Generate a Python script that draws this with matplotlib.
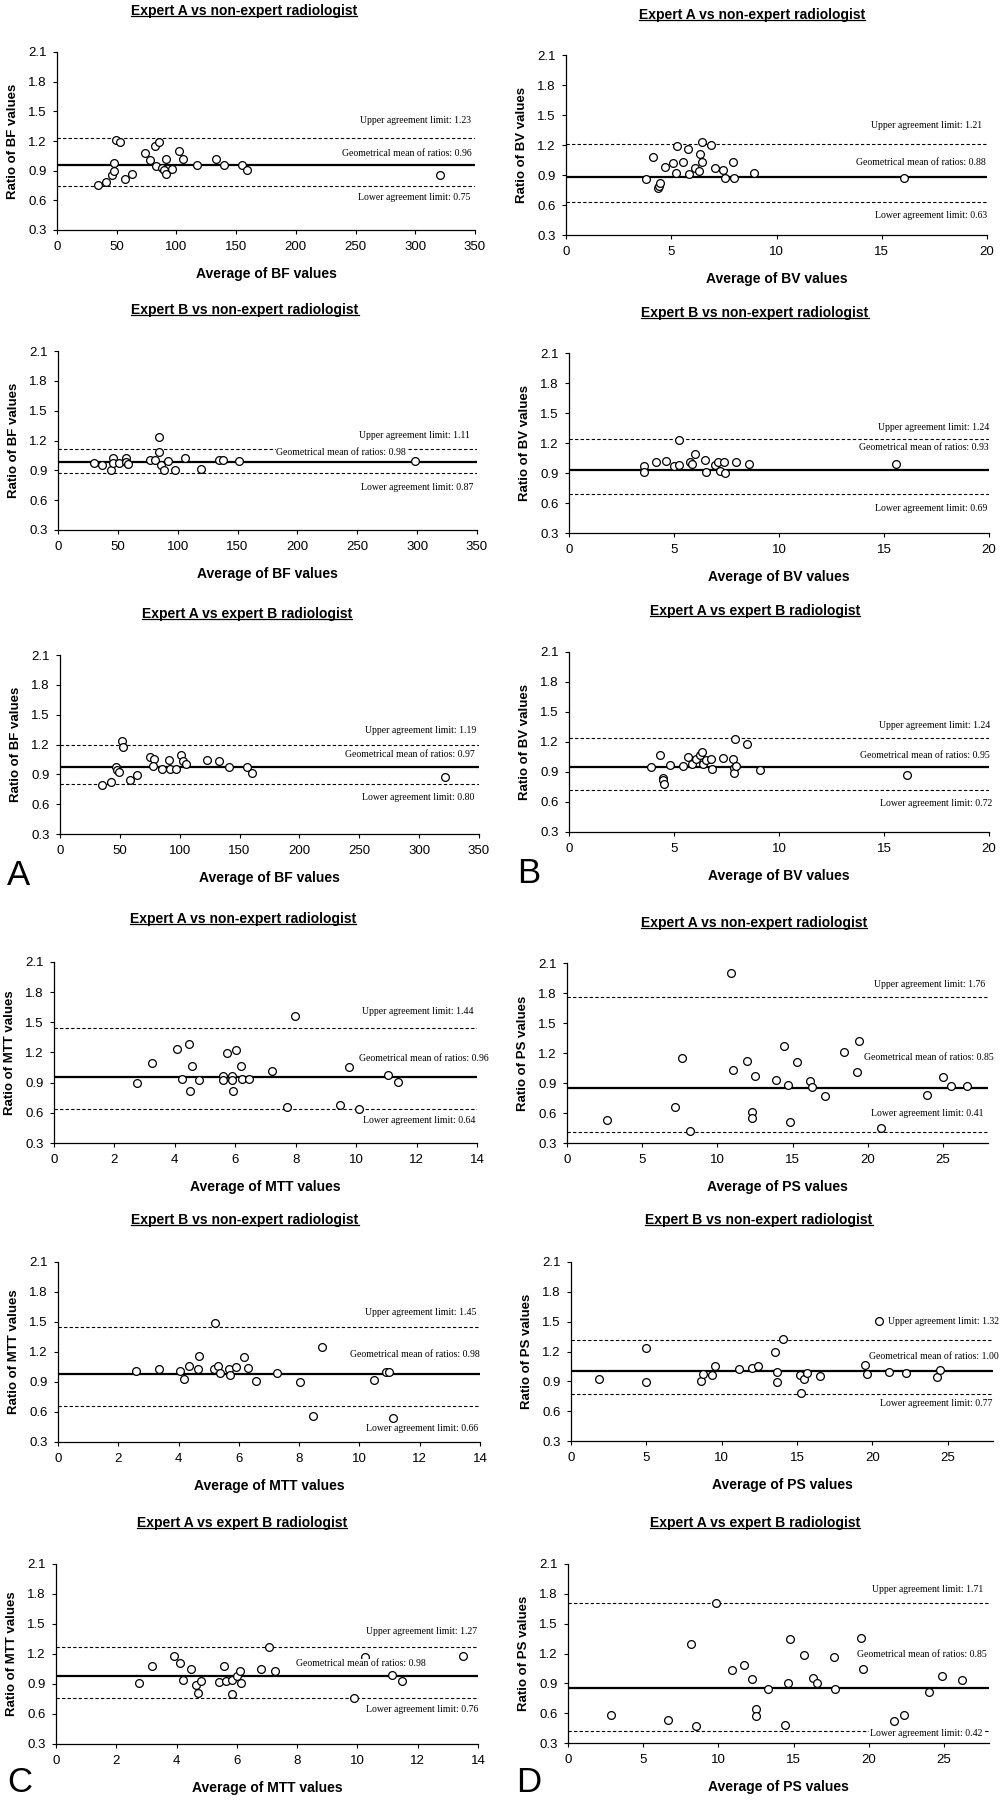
import matplotlib.pyplot as plt
from matplotlib.lines import Line2D

plt.rcParams['font.family'] = ['Liberation Sans', 'DejaVu Sans']

W, H = 1001, 1800

# ---------------- values ----------------
# BF
bf_a_non_x = [34.6, 41.3, 45.8, 47.5, 47.5, 49.7, 52.5, 57.0, 62.6, 74.0, 78.2, 81.8, 85.5, 83.2,
              87.7, 89.4, 91.6, 91.6, 96.4, 102.0, 105.3, 117.0, 133.0, 140.0, 155.0, 159.0, 320.7]
bf_a_non_y = [0.76, 0.79, 0.855, 0.90, 0.98, 1.215, 1.19, 0.82, 0.865, 1.08, 1.01, 1.15, 1.19, 0.95,
              0.93, 0.905, 0.865, 1.02, 0.92, 1.10, 1.02, 0.955, 1.02, 0.955, 0.955, 0.905, 0.86]
bf_b_non_x = [30.1, 36.8, 44.1, 46.0, 46.0, 51.0, 56.6, 56.6, 58.6, 76.7, 80.9, 84.5, 84.5, 85.9,
              88.7, 92.0, 97.6, 106.0, 119.6, 134.4, 137.5, 151.4, 297.8]
bf_b_non_y = [0.97, 0.953, 0.903, 1.02, 0.97, 0.97, 1.02, 0.987, 0.963, 1.0, 1.0, 1.238, 1.081, 0.953,
              0.903, 0.997, 0.903, 1.027, 0.913, 1.0, 1.0, 0.99, 0.99]
bf_a_b_x = [35.4, 42.3, 46.5, 47.9, 49.3, 52.1, 52.9, 58.5, 64.0, 75.2, 78.8, 77.4, 84.9, 91.3,
            91.9, 96.6, 100.8, 102.5, 105.0, 122.5, 133.1, 140.9, 156.0, 160.7, 321.6]
bf_a_b_y = [0.789, 0.822, 0.973, 0.946, 0.922, 1.24, 1.173, 0.845, 0.896, 1.073, 1.056, 0.979, 0.952,
            1.046, 0.956, 0.956, 1.09, 1.036, 1.006, 1.046, 1.036, 0.969, 0.969, 0.912, 0.872]

# BV
bv_a_non_x = [3.79, 4.12, 4.39, 4.44, 4.47, 4.71, 5.10, 5.23, 5.26, 5.58, 5.78, 5.83, 6.13, 6.32,
              6.37, 6.45, 6.45, 6.88, 7.08, 7.45, 7.53, 7.92, 7.96, 8.95, 16.04]
bv_a_non_y = [0.857, 1.083, 0.767, 0.793, 0.823, 0.983, 1.017, 0.917, 1.193, 1.027, 1.16, 0.907, 0.973,
              0.94, 1.11, 1.027, 1.227, 1.20, 0.967, 0.95, 0.867, 1.027, 0.867, 0.917, 0.867]
bv_b_non_x = [3.56, 3.56, 4.13, 4.63, 4.98, 5.22, 5.22, 5.75, 5.86, 6.02, 6.49, 6.54, 6.94, 7.10,
              7.17, 7.38, 7.41, 7.94, 8.57, 15.56]
bv_b_non_y = [0.973, 0.907, 1.007, 1.017, 0.967, 1.233, 0.977, 1.007, 0.993, 1.09, 1.027, 0.907, 0.977,
              1.007, 0.923, 1.007, 0.90, 1.007, 0.993, 0.993]
bv_a_b_x = [3.89, 4.33, 4.49, 4.49, 4.54, 4.81, 5.41, 5.68, 5.87, 6.07, 6.23, 6.31, 6.39, 6.50,
            6.76, 6.82, 7.34, 7.82, 7.85, 7.85, 7.95, 7.90, 8.49, 9.09, 16.1]
bv_a_b_y = [0.95, 1.073, 0.84, 0.817, 0.783, 0.973, 0.957, 1.05, 0.977, 1.033, 1.073, 1.10, 0.977,
            1.023, 1.033, 0.927, 1.043, 1.033, 0.94, 0.89, 0.96, 1.233, 1.177, 0.917, 0.873]

# MTT
mtt_a_non_x = [2.75, 3.25, 4.08, 4.22, 4.48, 4.50, 4.57, 4.81, 5.58, 5.58, 5.73, 5.88, 5.88, 5.91,
               6.02, 6.18, 6.21, 6.46, 7.20, 7.72, 7.98, 9.45, 9.75, 10.08, 11.05, 11.37]
mtt_a_non_y = [0.90, 1.099, 1.238, 0.94, 1.288, 0.817, 1.068, 0.93, 0.966, 0.923, 1.195, 0.966, 0.923,
               0.817, 1.228, 1.068, 0.94, 0.94, 1.016, 0.658, 1.56, 0.681, 1.055, 0.635, 0.98, 0.907]
mtt_b_non_x = [2.60, 3.34, 4.06, 4.17, 4.35, 4.63, 4.67, 5.17, 5.20, 5.31, 5.37, 5.68, 5.72, 5.89,
               6.16, 6.29, 6.56, 7.25, 8.02, 8.47, 8.76, 10.48, 10.88, 10.99, 11.12]
mtt_b_non_y = [1.011, 1.027, 1.011, 0.931, 1.06, 1.027, 1.163, 1.027, 1.492, 1.06, 0.987, 1.027, 0.971,
               1.047, 1.147, 1.037, 0.911, 0.994, 0.898, 0.562, 1.246, 0.921, 0.997, 0.997, 0.539]
mtt_a_b_x = [2.76, 3.20, 3.92, 4.12, 4.21, 4.48, 4.65, 4.70, 4.81, 5.42, 5.59, 5.64, 5.85, 5.83,
             6.00, 6.11, 6.13, 6.81, 7.05, 7.27, 9.90, 10.26, 11.14, 11.48, 13.5]
mtt_a_b_y = [0.907, 1.08, 1.183, 1.113, 0.94, 1.047, 0.89, 0.813, 0.933, 0.917, 1.08, 0.933, 0.94,
             0.797, 0.98, 1.033, 0.907, 1.047, 1.267, 1.033, 0.763, 1.173, 0.99, 0.93, 1.183]

# PS
ps_a_non_x = [2.67, 7.16, 7.67, 8.16, 10.93, 11.07, 12.0, 12.33, 12.33, 12.49, 13.93, 14.44, 14.67,
              14.82, 15.33, 16.18, 16.27, 17.16, 18.44, 19.29, 19.4, 20.89, 23.96, 25.0, 25.56, 26.62]
ps_a_non_y = [0.533, 0.657, 1.15, 0.417, 2.0, 1.033, 1.117, 0.607, 0.55, 0.973, 0.933, 1.267, 0.883,
              0.51, 1.107, 0.923, 0.857, 0.773, 1.21, 1.007, 1.317, 0.45, 0.783, 0.96, 0.867, 0.867]
ps_b_non_x = [1.89, 4.99, 4.97, 8.65, 8.74, 9.36, 9.54, 11.18, 12.02, 12.40, 13.51, 13.64, 13.69,
              14.06, 15.2, 15.24, 15.46, 15.68, 16.5, 19.52, 19.63, 20.41, 21.12, 22.23, 24.29, 24.51]
ps_b_non_y = [0.922, 1.237, 0.889, 0.902, 0.969, 0.962, 1.056, 1.019, 1.039, 1.053, 1.197, 0.889, 0.996,
              1.324, 0.962, 0.778, 0.922, 0.986, 0.956, 1.063, 0.969, 1.508, 0.989, 0.979, 0.939, 1.013]
ps_a_b_x = [2.87, 6.67, 8.17, 8.48, 9.81, 10.93, 11.71, 12.24, 12.48, 12.48, 13.3, 14.4, 14.66,
            14.77, 15.72, 16.28, 16.54, 17.71, 17.78, 19.48, 19.59, 21.69, 22.35, 24.0, 24.89, 26.21]
ps_a_b_y = [0.584, 0.534, 1.294, 0.467, 1.705, 1.036, 1.08, 0.942, 0.641, 0.568, 0.845, 0.484, 0.902,
            1.344, 1.187, 0.952, 0.902, 1.16, 0.845, 1.354, 1.045, 0.518, 0.584, 0.812, 0.975, 0.935]

# upper limit, geometrical mean, lower limit for each panel
limits = [(1.23, 0.96, 0.75), (1.21, 0.88, 0.63),
          (1.11, 0.98, 0.87), (1.24, 0.93, 0.69),
          (1.19, 0.97, 0.80), (1.24, 0.95, 0.72),
          (1.44, 0.96, 0.64), (1.76, 0.85, 0.41),
          (1.45, 0.98, 0.66), (1.32, 1.00, 0.77),
          (1.27, 0.98, 0.76), (1.71, 0.85, 0.42)]

titles = ["Expert A vs non-expert radiologist", "Expert A vs non-expert radiologist",
          "Expert B vs non-expert radiologist", "Expert B vs non-expert radiologist",
          "Expert A vs expert B radiologist", "Expert A vs expert B radiologist",
          "Expert A vs non-expert radiologist", "Expert A vs non-expert radiologist",
          "Expert B vs non-expert radiologist", "Expert B vs non-expert radiologist",
          "Expert A vs expert B radiologist", "Expert A vs expert B radiologist"]
params = ["BF", "BV", "BF", "BV", "BF", "BV", "MTT", "PS", "MTT", "PS", "MTT", "PS"]
xs_all = [bf_a_non_x, bv_a_non_x, bf_b_non_x, bv_b_non_x, bf_a_b_x, bv_a_b_x,
          mtt_a_non_x, ps_a_non_x, mtt_b_non_x, ps_b_non_x, mtt_a_b_x, ps_a_b_x]
ys_all = [bf_a_non_y, bv_a_non_y, bf_b_non_y, bv_b_non_y, bf_a_b_y, bv_a_b_y,
          mtt_a_non_y, ps_a_non_y, mtt_b_non_y, ps_b_non_y, mtt_a_b_y, ps_a_b_y]

x_scale = {"BF": (350, 50, 350), "BV": (20, 5, 20), "MTT": (14, 2, 14), "PS": (28, 5, 25)}
y_ticks = [0.3, 0.6, 0.9, 1.2, 1.5, 1.8, 2.1]

# ---------------- layout (pixels) ----------------
axes_px = [(57, 52, 475, 230), (566, 55, 987, 235),
           (58, 351, 477, 530), (569, 353, 989, 533),
           (60, 655, 479, 834), (569, 652, 989, 832),
           (54, 962, 477, 1143), (567, 963, 988, 1143),
           (58, 1262, 480, 1442), (571, 1262, 993, 1441),
           (56, 1564, 478, 1744), (568, 1564, 989, 1743)]
title_px = [(244, 11), (752, 15), (245, 310), (755, 313), (247, 614), (755, 611),
            (243, 919), (754, 923), (245, 1220), (759, 1220), (242, 1523), (755, 1523)]
# (x right end, y) of the upper / mean / lower notes, in data units
note_pos = [[(347, 1.404), (347, 1.074), (346, 0.630)],
            [(19.76, 1.40), (19.92, 1.027), (20.0, 0.50)],
            [(344.4, 1.255), (290.8, 1.081), (346.6, 0.729)],
            [(20.03, 1.36), (20.0, 1.157), (19.9, 0.543)],
            [(347.5, 1.34), (346.7, 1.096), (345.9, 0.67)],
            [(20.08, 1.36), (20.03, 1.06), (20.16, 0.583)],
            [(13.9, 1.603), (14.4, 1.139), (13.96, 0.526)],
            [(27.8, 1.883), (28.4, 1.15), (27.7, 0.593)],
            [(13.89, 1.595), (13.98, 1.177), (13.94, 0.433)],
            [(28.4, 1.498), (28.4, 1.153), (27.93, 0.678)],
            [(13.97, 1.423), (12.25, 1.10), (14.0, 0.65)],
            [(27.65, 1.846), (27.87, 1.187), (27.54, 0.40)]]
letters = [("A", 7, 885), ("B", 517, 883), ("C", 7, 1792), ("D", 516, 1792)]


def fx(x):
    return x / W


def fy(y):
    return 1 - y / H


fig = plt.figure(figsize=(W / 100, H / 100), dpi=100)
fig.patch.set_facecolor("white")

title_texts = []
for i in range(12):
    l, t, r, b = axes_px[i]
    ax = fig.add_axes([fx(l), fy(b), (r - l) / W, (b - t) / H])
    p = params[i]
    xmax, step, last_tick = x_scale[p]
    up, mean, low = limits[i]

    ax.axhline(mean, color="black", lw=1.6, zorder=2)
    ax.axhline(up, color="black", lw=0.8, ls=(0, (3, 2)), zorder=2)
    ax.axhline(low, color="black", lw=0.8, ls=(0, (3, 2)), zorder=2)
    ax.plot(xs_all[i], ys_all[i], "o", ms=5.6, mfc="white", mec="black", mew=0.9,
            zorder=3, clip_on=False)

    notes = ["Upper agreement limit: %.2f" % up,
             "Geometrical mean of ratios: %.2f" % mean,
             "Lower agreement limit: %.2f" % low]
    for txt, (nx, ny) in zip(notes, note_pos[i]):
        ax.text(nx, ny, txt, ha="right", va="center", fontsize=7,
                family=["Liberation Serif", "DejaVu Serif"], clip_on=False, zorder=4,
                bbox=dict(facecolor="white", edgecolor="none", pad=0.6))

    ax.set_xlim(0, xmax)
    ax.set_ylim(0.3, 2.1)
    ax.set_xticks(list(range(0, last_tick + 1, step)))
    ax.set_yticks(y_ticks)
    ax.set_yticklabels(["%.1f" % v for v in y_ticks])
    for s in ["top", "right"]:
        ax.spines[s].set_visible(False)
    for s in ["left", "bottom"]:
        ax.spines[s].set_linewidth(0.9)
    ax.tick_params(axis="x", direction="out", length=3, width=0.8, labelsize=9.5, pad=5)
    ax.tick_params(axis="y", direction="out", length=3, width=0.8, labelsize=9.5, pad=4.5)

    ax.set_xlabel("Average of %s values" % p, fontsize=10, fontweight="bold")
    ax.set_ylabel("Ratio of %s values" % p, fontsize=9.5, fontweight="bold")
    ax.xaxis.set_label_coords(0.5, -37 / (b - t))
    ax.yaxis.set_label_coords(-38 / (r - l), 0.5)

    tx, ty = title_px[i]
    title_texts.append(fig.text(fx(tx), fy(ty), titles[i], ha="center", va="center",
                                fontsize=10, fontweight="bold"))

for name, lx, ly in letters:
    fig.text(fx(lx), fy(ly), name, ha="left", va="baseline", fontsize=25)

# underline the panel titles
fig.canvas.draw()
renderer = fig.canvas.get_renderer()
inv = fig.transFigure.inverted()
for t in title_texts:
    bb = t.get_window_extent(renderer)
    y = bb.y0 + 1.8
    (x0, y0), (x1, y1) = inv.transform([(bb.x0, y), (bb.x1, y)])
    fig.add_artist(Line2D([x0, x1], [y0, y1], color="black", lw=0.9, transform=fig.transFigure))

fig.savefig("out.png", dpi=100)
